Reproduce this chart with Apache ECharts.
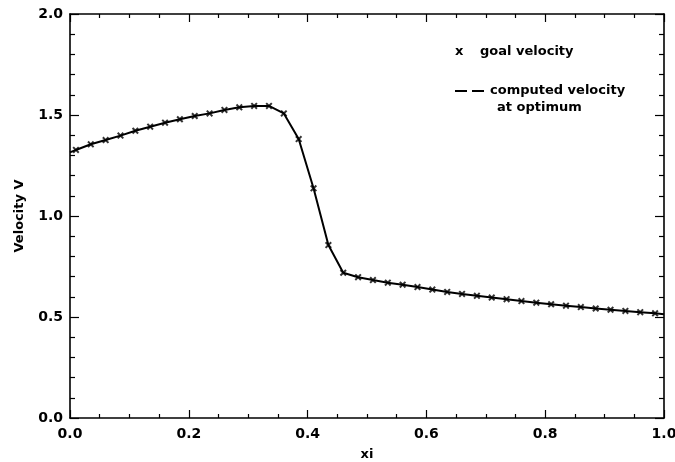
<!DOCTYPE html>
<html>
<head>
<meta charset="utf-8">
<script src="https://cdn.jsdelivr.net/npm/echarts@6/dist/echarts.min.js"></script>
<style>html,body{margin:0;padding:0;background:#fff}#c{width:675px;height:462px}</style>
</head>
<body>
<div id="c"></div>
<script>
var xi = [0.01,0.035,0.06,0.085,0.11,0.135,0.16,0.185,0.21,0.235,0.26,0.285,0.31,0.335,0.36,0.385,0.41,0.435,0.46,0.485,0.51,0.535,0.56,0.585,0.61,0.635,0.66,0.685,0.71,0.735,0.76,0.785,0.81,0.835,0.86,0.885,0.91,0.935,0.96,0.985];
var goalVelocity = [1.327,1.355,1.376,1.398,1.422,1.442,1.462,1.479,1.495,1.508,1.525,1.538,1.545,1.545,1.508,1.381,1.137,0.856,0.719,0.697,0.683,0.670,0.660,0.648,0.636,0.624,0.614,0.605,0.596,0.588,0.579,0.571,0.563,0.556,0.549,0.542,0.536,0.530,0.524,0.518];
var computedX = [0.0].concat(xi, [1.0]);
var computedVelocity = [1.315].concat(goalVelocity, [0.514]);
var xTicks = [0.0,0.2,0.4,0.6,0.8,1.0];
var yTicks = [0.0,0.5,1.0,1.5,2.0];

var chart = echarts.init(document.getElementById('c'), null, {renderer:'canvas'});
var FONT = 'DejaVu Sans, Verdana, sans-serif';
var lbl = {color:'#000', fontFamily:FONT, fontSize:14, fontWeight:'bold'};
var nameLbl = {color:'#000', fontFamily:FONT, fontSize:13, fontWeight:'bold'};
function fmt(v){return Number(v).toFixed(1);}
var axLine = {show:true, onZero:false, lineStyle:{color:'#000', width:1.6}};
function xAxisCfg(pos, show){
  return {type:'value', position:pos, min:xTicks[0], max:xTicks[xTicks.length-1], interval:0.2,
    axisLine:axLine, splitLine:{show:false},
    axisTick:{show:true, inside:true, length:8, lineStyle:{color:'#000', width:1.2}},
    minorTick:{show:true, splitNumber:4, length:4, lineStyle:{color:'#000', width:1.2}},
    axisLabel:Object.assign({show:show, margin:9, formatter:fmt, showMinLabel:true, showMaxLabel:true}, lbl),
    name: show ? 'xi' : '', nameLocation:'middle', nameGap:30, nameTextStyle:nameLbl};
}
function yAxisCfg(pos, show){
  return {type:'value', position:pos, min:yTicks[0], max:yTicks[yTicks.length-1], interval:0.5,
    axisLine:axLine, splitLine:{show:false},
    axisTick:{show:true, inside:true, length:9, lineStyle:{color:'#000', width:1.2}},
    minorTick:{show:true, splitNumber:5, length:5, lineStyle:{color:'#000', width:1.2}},
    axisLabel:Object.assign({show:show, margin:7, formatter:fmt, showMinLabel:true, showMaxLabel:true}, lbl),
    name: show ? 'Velocity V' : '', nameLocation:'middle', nameGap:44, nameRotate:90, nameTextStyle:nameLbl};
}
var xMark = 'path://M0,2L2,0L5,3L8,0L10,2L7,5L10,8L8,10L5,7L2,10L0,8L3,5Z';
var legendFont = 'bold 13px DejaVu Sans, Verdana, sans-serif';
chart.setOption({
  backgroundColor:'#fff',
  animation:false,
  grid:{left:70, right:11, top:14, bottom:44, containLabel:false, outerBoundsMode:'none'},
  xAxis:[xAxisCfg('bottom', true), xAxisCfg('top', false)],
  yAxis:[yAxisCfg('left', true), yAxisCfg('right', false)],
  series:[
    {type:'line', name:'computed velocity', xAxisIndex:0, yAxisIndex:0,
      data: computedX.map(function(x,i){return [x, computedVelocity[i]];}),
      showSymbol:false, symbol:'none', lineStyle:{color:'#000', width:2}, z:2},
    {type:'scatter', name:'goal velocity', xAxisIndex:0, yAxisIndex:0,
      data: xi.map(function(x,i){return [x, goalVelocity[i]];}),
      symbol:xMark, symbolSize:7, itemStyle:{color:'#000'}, z:3}
  ],
  graphic:[
    {type:'text', x:455, y:52, style:{text:'x', fill:'#000', font:legendFont, verticalAlign:'middle'}},
    {type:'text', x:480, y:52, style:{text:'goal velocity', fill:'#000', font:legendFont, verticalAlign:'middle'}},
    {type:'line', shape:{x1:455, y1:91, x2:485, y2:91}, style:{stroke:'#000', lineWidth:2, lineDash:[12,5]}},
    {type:'text', x:490, y:91, style:{text:'computed velocity', fill:'#000', font:legendFont, verticalAlign:'middle'}},
    {type:'text', x:497, y:108, style:{text:'at optimum', fill:'#000', font:legendFont, verticalAlign:'middle'}}
  ]
});
</script>
</body>
</html>
